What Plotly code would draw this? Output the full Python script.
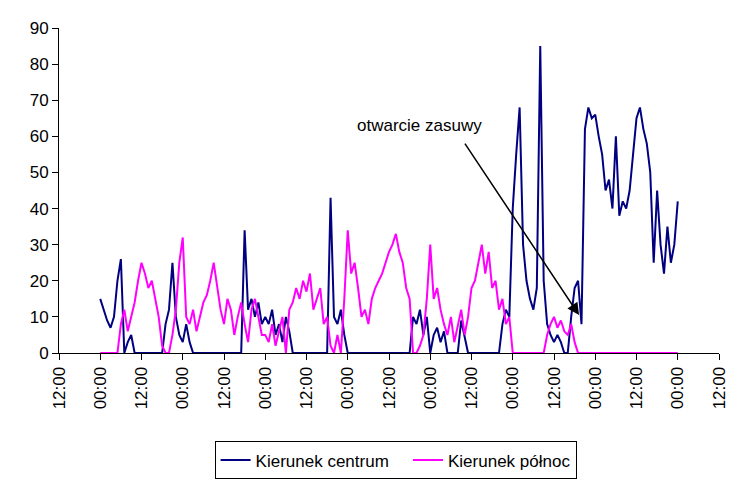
import plotly.graph_objects as go

# hourly values, hour 12 (first 00:00) .. hour 180 (last 00:00)
centrum = (
    [15, 12, 9, 7, 10, 20, 26, 0, 3, 5, 0, 0, 0, 0, 0, 0, 0, 0, 0, 8, 12, 25, 10, 5]
    + [3, 8, 3, 0, 0, 0, 0, 0, 0, 0, 0, 0, 0, 0, 0, 0, 0, 0, 34, 12, 15, 10, 14, 8]
    + [10, 8, 12, 5, 8, 3, 10, 6, 0, 0, 0, 0, 0, 0, 0, 0, 0, 0, 0, 43, 10, 8, 12, 5]
    + [0, 0, 0, 0, 0, 0, 0, 0, 0, 0, 0, 0, 0, 0, 0, 0, 0, 0, 0, 10, 8, 12, 5, 10]
    + [0, 5, 7, 3, 6, 0, 0, 0, 0, 9, 4, 0, 0, 0, 0, 0, 0, 0, 0, 0, 0, 8, 12, 10]
    + [40, 55, 68, 30, 20, 15, 12, 18, 85, 20, 8, 5, 3, 5, 3, 0, 0, 10, 18, 20, 8, 62, 68, 65]
    + [66, 60, 55, 45, 48, 40, 60, 38, 42, 40, 45, 55, 65, 68, 62, 58, 50, 25, 45, 30, 22, 35, 25, 30, 42]
)
polnoc = (
    [0, 0, 0, 0, 0, 0, 8, 12, 6, 10, 14, 20, 25, 22, 18, 20, 15, 10, 2, 0, 0, 5, 12, 25]
    + [32, 10, 8, 12, 6, 10, 14, 16, 20, 25, 18, 12, 8, 15, 12, 5, 10, 14, 8, 3, 12, 15, 10, 5]
    + [5, 3, 8, 2, 6, 10, 0, 12, 14, 18, 15, 20, 17, 22, 12, 15, 18, 8, 10, 2, 0, 5, 0, 15]
    + [34, 22, 25, 18, 10, 12, 8, 15, 18, 20, 22, 25, 28, 30, 33, 28, 25, 18, 15, 0, 0, 2, 5, 15]
    + [30, 15, 18, 12, 8, 5, 10, 3, 8, 12, 5, 10, 18, 20, 25, 30, 22, 28, 18, 20, 12, 15, 8, 10]
    + [0, 0, 0, 0, 0, 0, 0, 0, 0, 0, 5, 8, 10, 7, 9, 6, 5, 8, 3, 0, 0, 0, 0, 0]
    + [0] * 25
)
hours = list(range(12, 12 + len(centrum)))
tick_vals = list(range(0, 193, 12))
tick_text = ["12:00" if i % 2 == 0 else "00:00" for i in range(len(tick_vals))]

fig = go.Figure()
fig.add_trace(go.Scatter(x=hours, y=centrum, mode="lines", name="Kierunek centrum   ",
                         line=dict(color="#000080", width=2)))
fig.add_trace(go.Scatter(x=hours, y=polnoc, mode="lines", name="Kierunek północ",
                         line=dict(color="#FF00FF", width=2)))

fig.add_annotation(x=151.3, y=10.5, ax=117.8, ay=58.4, xref="x", yref="y",
                   axref="x", ayref="y", text="", showarrow=True,
                   arrowhead=2, arrowsize=1.6, arrowwidth=1.5, arrowcolor="black")
fig.add_annotation(x=105, y=63, xref="x", yref="y", text="otwarcie zasuwy",
                   showarrow=False, font=dict(size=17, color="black"))

fig.update_layout(
    width=755, height=483, plot_bgcolor="white", paper_bgcolor="white",
    margin=dict(l=51, r=44, t=20, b=138, autoexpand=False),
    font=dict(family="Liberation Sans, Arial", size=17, color="black"),
    legend=dict(orientation="h", x=0.51, xanchor="center", y=-0.272, yanchor="top",
                bordercolor="black", borderwidth=1, font=dict(size=17)),
)
fig.update_xaxes(range=[0, 192], tickvals=tick_vals, ticktext=tick_text, tickangle=-90,
                 showgrid=False, zeroline=False, showline=True, linecolor="black",
                 ticks="outside", ticklen=6, tickcolor="black", automargin=False)
fig.update_yaxes(range=[0, 90], dtick=10, showgrid=False, zeroline=False, showline=True,
                 linecolor="black", ticks="outside", ticklen=6, tickcolor="black",
                 automargin=False)

fig.write_html("out.html")
